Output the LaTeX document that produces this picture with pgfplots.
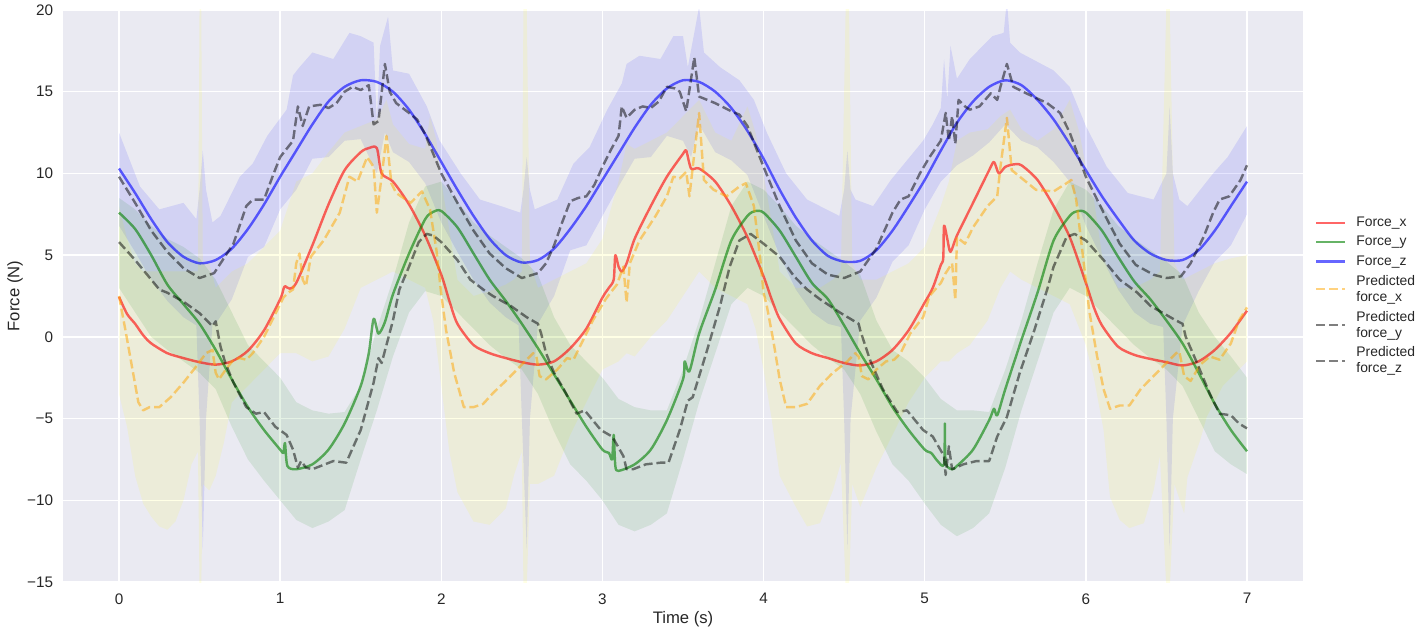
\documentclass[border=0pt]{standalone}
\usepackage{pgfplots}
\pgfplotsset{compat=1.18}
\usepgfplotslibrary{fillbetween}
\usepackage{fontspec}
\setmainfont{Liberation Sans}
\definecolor{bgc}{RGB}{234,234,242}
\definecolor{txt}{RGB}{38,38,38}
\definecolor{mplgreen}{RGB}{0,128,0}
\definecolor{mplorange}{RGB}{255,165,0}
\definecolor{mplyellow}{RGB}{255,255,0}
\begin{document}
\begin{tikzpicture}
\begin{axis}[
  at={(0,0)}, anchor=south west,
  scale only axis, width=892.8bp, height=411.84bp,
  xmin=-0.3476, xmax=7.3476, ymin=-15, ymax=20,
  axis background/.style={fill=bgc},
  axis line style={draw=none},
  major tick length=0pt,
  grid=major, major grid style={white, line width=1.1bp},
  xtick={0,1,2,3,4,5,6,7},
  xticklabels={0,1,2,3,4,5,6,7},
  ytick={-15,-10,-5,0,5,10,15,20},
  yticklabels={−15,−10,−5,0,5,10,15,20},
  tick label style={font=\fontsize{11bp}{13bp}\selectfont, text=txt, inner sep=0pt},
  xticklabel style={anchor=north, yshift=-8bp},
  yticklabel style={anchor=east, xshift=-7bp},
  xlabel={Time (s)}, ylabel={Force (N)},
  label style={font=\fontsize{12bp}{14bp}\selectfont, text=txt, inner sep=0pt},
  xlabel style={at={(axis description cs:0.5,-0.051)}, anchor=north},
  ylabel style={at={(axis description cs:-0.0387,0.5)}, anchor=center, rotate=0},
  legend cell align=left,
  legend image code/.code={\draw[#1] (0bp,0bp) -- (21bp,0bp); \path (26bp,0bp);},
  legend style={at={(axis description cs:1,0.5)}, anchor=west, xshift=7.5bp,
    draw=none, fill=none, font=\fontsize{10bp}{11.5bp}\selectfont, text=txt,
    row sep=1.6bp, cells={align=left}, inner sep=1bp},
  line join=round,
  solid line/.style={line width=1.75bp, smooth, tension=0.45},
  dash line/.style={line width=1.75bp, dash pattern=on 6.5bp off 2.8bp},
]
% ---------- bands ----------
\addplot[name path=zhi, draw=none, forget plot] coordinates {
(0,12.5) (0.13,9.2) (0.25,7.8) (0.4,8.2) (0.48,7.2) (0.5,9.0) (0.52,11.4) (0.54,9.0) (0.58,7.0) (0.63,7.4) (0.75,9.8) (0.83,10.6) (0.92,12.3) (1.04,13.9) (1.08,16.0) (1.12,16.5) (1.2,17.4) (1.33,17.0) (1.43,18.6) (1.5,18.4) (1.58,18.0) (1.6,13.1) (1.62,17.8) (1.67,19.6) (1.7,16.3) (1.8,16.1) (1.91,14.1) (1.99,12.0) (2.12,10.0) (2.24,8.4) (2.37,8.0) (2.49,7.6) (2.51,9.0) (2.53,11.0) (2.55,9.0) (2.58,7.8) (2.72,8.4) (2.82,10.6) (2.92,11.6) (3.03,13.9) (3.12,15.5) (3.15,16.7) (3.23,17.2) (3.36,17.0) (3.44,18.4) (3.5,18.4) (3.53,16.5) (3.57,18.6) (3.6,20.2) (3.63,17.4) (3.73,16.5) (3.85,15.7) (3.94,14.5) (4.02,12.5) (4.14,10.0) (4.27,8.4) (4.39,7.8) (4.47,7.4) (4.5,9.0) (4.52,11.4) (4.54,9.0) (4.57,8.4) (4.68,8.0) (4.79,9.6) (4.89,10.8) (4.99,12.0) (5.05,13.0) (5.1,14.0) (5.12,17.0) (5.14,14.5) (5.16,17.8) (5.2,15.8) (5.28,17.0) (5.42,18.4) (5.49,18.6) (5.51,20.6) (5.53,18.0) (5.59,17.4) (5.8,16.3) (5.9,15.3) (6.0,12.9) (6.13,10.4) (6.26,8.8) (6.42,8.4) (6.5,10.0) (6.52,14.1) (6.54,10.0) (6.58,8.4) (6.63,8.0) (6.79,10.0) (6.88,11.0) (7.0,12.9)
};
\addplot[name path=zlo, draw=none, forget plot] coordinates {
(0,6.8) (0.1,5.2) (0.2,3.5) (0.3,2.2) (0.4,1.2) (0.48,0.7) (0.5,-5) (0.52,-13) (0.54,-5) (0.58,0.8) (0.6,0.8) (0.7,2.3) (0.8,4.9) (0.9,5.5) (1.0,7.8) (1.1,9.0) (1.2,10.9) (1.3,11.0) (1.4,12.0) (1.5,12.1) (1.6,10.0) (1.65,12.5) (1.7,11.3) (1.8,10.7) (1.9,9.4) (2.0,7.0) (2.1,5.2) (2.2,3.5) (2.3,2.1) (2.4,1.2) (2.48,0.7) (2.5,-5) (2.53,-13) (2.55,-5) (2.6,0.8) (2.7,2.5) (2.8,5.3) (2.9,5.6) (3.0,7.4) (3.1,9.2) (3.2,10.9) (3.3,11.0) (3.4,12.3) (3.5,12.0) (3.55,11.0) (3.6,13.0) (3.7,11.3) (3.8,10.8) (3.9,9.9) (4.0,7.4) (4.1,5.0) (4.2,2.9) (4.3,1.5) (4.4,0.8) (4.48,0.6) (4.5,-5) (4.52,-13) (4.54,-5) (4.6,1.0) (4.7,2.4) (4.8,4.6) (4.9,5.6) (5.0,7.8) (5.1,9.5) (5.2,10.5) (5.3,11.1) (5.4,11.9) (5.5,13.0) (5.6,12.0) (5.7,11.6) (5.8,10.7) (5.9,9.5) (6.0,6.8) (6.1,4.8) (6.2,2.9) (6.3,1.5) (6.4,0.8) (6.48,0.6) (6.5,-5) (6.52,-13) (6.54,-5) (6.6,0.7) (6.7,2.8) (6.8,4.6) (6.9,5.6) (7.0,7.5)
};
\addplot[fill=blue, fill opacity=0.1, draw=none, forget plot] fill between[of=zhi and zlo];

\addplot[name path=xhi, draw=none, forget plot] coordinates {
(0,8.0) (0.05,6.0) (0.1,4.5) (0.15,4.0) (0.2,4.0) (0.3,4.0) (0.4,4.0) (0.49,4.0) (0.5,20.5) (0.51,20.5) (0.52,4.5) (0.56,4.5) (0.6,3.0) (0.65,3.5) (0.7,4.0) (0.8,4.5) (0.9,5.5) (1.0,6.5) (1.1,9.5) (1.2,10.0) (1.3,11.3) (1.4,12.5) (1.5,12.9) (1.6,13.3) (1.66,14.5) (1.7,13.0) (1.8,11.8) (1.9,11.5) (1.93,13.5) (1.97,12.0) (2.0,9.5) (2.05,6.5) (2.1,3.5) (2.2,2.5) (2.3,2.8) (2.4,3.2) (2.45,3.5) (2.5,4.0) (2.51,20.5) (2.53,20.5) (2.55,4.5) (2.6,3.0) (2.7,3.5) (2.8,4.0) (2.9,4.5) (3.0,6.0) (3.1,9.5) (3.15,11.8) (3.2,11.5) (3.3,12.0) (3.4,12.5) (3.5,13.5) (3.6,14.5) (3.7,12.5) (3.8,12.0) (3.9,14.1) (3.95,12.5) (4.0,10.0) (4.05,7.0) (4.1,4.0) (4.2,3.0) (4.27,3.0) (4.35,3.0) (4.43,3.5) (4.48,4.0) (4.51,20.5) (4.53,20.5) (4.55,4.5) (4.6,3.5) (4.7,3.5) (4.8,4.0) (4.9,4.5) (5.0,5.5) (5.1,8.0) (5.15,9.5) (5.2,12.0) (5.28,12.5) (5.39,12.7) (5.47,13.5) (5.53,13.9) (5.6,12.7) (5.7,12.0) (5.8,12.7) (5.9,14.5) (5.96,12.5) (6.0,10.4) (6.05,8.4) (6.1,5.0) (6.2,3.0) (6.3,3.0) (6.4,3.5) (6.46,4.0) (6.5,20.5) (6.52,20.5) (6.55,4.5) (6.6,3.5) (6.7,4.0) (6.8,4.5) (6.9,4.8) (7.0,5.0)
};
\addplot[name path=xlo, draw=none, forget plot] coordinates {
(0,-3.5) (0.05,-5.5) (0.1,-8.5) (0.15,-10.2) (0.2,-11.0) (0.25,-11.6) (0.3,-11.8) (0.35,-11.3) (0.4,-10.0) (0.45,-7.8) (0.49,-7.0) (0.5,-15.5) (0.51,-15.5) (0.52,-9.0) (0.56,-9.4) (0.6,-8.5) (0.65,-6.5) (0.7,-4.0) (0.8,-3.0) (0.9,-2.0) (1.0,-1.0) (1.1,-1.0) (1.2,-1.5) (1.3,-1.2) (1.4,0.5) (1.5,3.0) (1.6,3.5) (1.7,4.0) (1.8,3.5) (1.9,3.0) (1.95,1.0) (2.0,-3.0) (2.05,-7.0) (2.1,-9.5) (2.2,-11.3) (2.3,-11.5) (2.4,-10.5) (2.45,-8.5) (2.5,-7.0) (2.51,-15.5) (2.53,-15.5) (2.55,-9.0) (2.6,-9.0) (2.7,-8.5) (2.8,-6.0) (2.9,-4.0) (3.0,-2.0) (3.1,-1.5) (3.15,-1.0) (3.2,-1.2) (3.3,0.0) (3.4,1.0) (3.5,2.5) (3.6,4.0) (3.7,3.0) (3.8,2.5) (3.9,2.0) (3.95,0.5) (4.0,-2.0) (4.05,-5.0) (4.1,-8.5) (4.2,-10.4) (4.27,-11.6) (4.35,-11.4) (4.43,-9.4) (4.48,-7.7) (4.51,-15.5) (4.53,-15.5) (4.55,-9.0) (4.6,-10.4) (4.7,-8.0) (4.8,-6.0) (4.9,-4.0) (5.0,-2.5) (5.1,-1.5) (5.15,-1.5) (5.2,-1.0) (5.28,-0.5) (5.39,1.0) (5.47,3.0) (5.53,4.0) (5.6,3.5) (5.7,3.0) (5.8,2.5) (5.9,2.0) (5.96,0.5) (6.0,-0.5) (6.05,-2.5) (6.11,-5.7) (6.15,-9.8) (6.21,-11.2) (6.27,-11.7) (6.36,-11.4) (6.42,-9.4) (6.46,-7.3) (6.5,-15.5) (6.52,-15.5) (6.55,-9.0) (6.61,-10.8) (6.63,-8.6) (6.71,-6.3) (6.75,-4.9) (6.85,-3.0) (7.0,-1.5)
};
\addplot[fill=mplyellow, fill opacity=0.1, draw=none, forget plot] fill between[of=xhi and xlo];

\addplot[name path=yhi, draw=none, forget plot] coordinates {
(0.0,8.5) (0.1,7.8) (0.2,6.8) (0.3,6.0) (0.4,5.5) (0.5,4.8) (0.6,3.5) (0.7,1.5) (0.8,-0.5) (0.9,-1.5) (1.0,-2.5) (1.1,-4.0) (1.2,-4.5) (1.3,-4.7) (1.4,-4.6) (1.5,-3.0) (1.6,0.5) (1.7,3.5) (1.8,7.0) (1.9,9.2) (2.0,9.5) (2.1,8.3) (2.2,7.0) (2.3,6.2) (2.4,5.5) (2.5,4.8) (2.6,3.8) (2.7,1.2) (2.8,-0.5) (2.9,-1.5) (3.0,-2.5) (3.1,-3.8) (3.2,-4.3) (3.3,-4.5) (3.4,-4.5) (3.5,-2.0) (3.6,1.0) (3.7,4.5) (3.8,8.0) (3.9,9.5) (4.0,9.0) (4.1,8.0) (4.2,6.8) (4.3,6.0) (4.4,5.3) (4.5,4.6) (4.6,3.8) (4.7,1.0) (4.8,-0.8) (4.9,-1.5) (5.0,-2.5) (5.1,-3.8) (5.2,-4.5) (5.3,-4.5) (5.4,-4.6) (5.5,-2.0) (5.6,1.0) (5.7,4.5) (5.8,7.8) (5.9,9.5) (6.0,9.0) (6.1,8.0) (6.2,6.8) (6.3,6.0) (6.4,5.3) (6.5,4.6) (6.6,3.8) (6.7,1.5) (6.8,0.0) (6.9,-1.2) (7.0,-2.5)
};
\addplot[name path=ylo, draw=none, forget plot] coordinates {
(0.0,3.0) (0.1,1.5) (0.2,0.0) (0.3,-0.8) (0.4,-1.5) (0.5,-2.2) (0.6,-3.2) (0.7,-5.5) (0.8,-7.5) (0.9,-8.8) (1.0,-10.0) (1.1,-11.2) (1.2,-11.7) (1.3,-11.3) (1.4,-10.6) (1.5,-7.5) (1.6,-4.5) (1.7,-1.2) (1.8,1.5) (1.9,2.8) (2.0,2.5) (2.1,1.5) (2.2,0.5) (2.3,-0.5) (2.4,-1.3) (2.5,-2.0) (2.6,-3.5) (2.7,-5.8) (2.8,-7.8) (2.9,-8.8) (3.0,-10.0) (3.1,-11.5) (3.2,-11.9) (3.3,-11.5) (3.4,-10.8) (3.5,-7.5) (3.6,-4.0) (3.7,-1.0) (3.8,2.0) (3.9,3.0) (4.0,2.5) (4.1,1.5) (4.2,0.5) (4.3,-0.5) (4.4,-1.3) (4.5,-2.0) (4.6,-3.5) (4.7,-5.8) (4.8,-7.8) (4.9,-8.8) (5.0,-10.2) (5.1,-11.5) (5.2,-12.2) (5.3,-11.7) (5.4,-10.8) (5.5,-8.0) (5.6,-4.5) (5.7,-1.5) (5.8,1.5) (5.9,3.0) (6.0,2.5) (6.1,1.5) (6.2,0.5) (6.3,-0.5) (6.4,-1.3) (6.5,-2.0) (6.6,-3.0) (6.7,-5.0) (6.8,-7.0) (6.9,-7.8) (7.0,-8.4)
};
\addplot[fill=mplgreen, fill opacity=0.1, draw=none, forget plot] fill between[of=yhi and ylo];

% ---------- lines ----------
\addplot[red, draw opacity=0.6, solid line] coordinates {
(0,2.45) (0.05,1.4) (0.1,0.8) (0.15,0.1) (0.2,-0.4) (0.3,-1.0) (0.4,-1.3) (0.5,-1.55) (0.6,-1.7) (0.7,-1.5) (0.8,-0.85) (0.9,0.4) (1.0,2.3) (1.02,2.9) (1.03,3.1) (1.06,2.95) (1.1,3.3) (1.2,5.6) (1.3,8.1) (1.4,10.2) (1.5,11.3) (1.55,11.55) (1.6,11.55) (1.63,10.0) (1.7,9.5) (1.8,8.1) (1.9,6.2) (2.0,3.8) (2.05,2.2) (2.1,0.8) (2.2,-0.5) (2.3,-1.0) (2.4,-1.3) (2.5,-1.55) (2.6,-1.7) (2.7,-1.5) (2.8,-0.7) (2.9,0.5) (3.0,2.4) (3.04,3.0) (3.07,3.5) (3.08,5.0) (3.1,4.3) (3.12,4.0) (3.15,4.5) (3.2,6.0) (3.3,8.0) (3.4,9.8) (3.5,11.2) (3.52,11.4) (3.55,10.3) (3.6,10.3) (3.7,9.5) (3.8,8.0) (3.9,6.1) (4.0,3.7) (4.05,2.3) (4.1,1.1) (4.2,-0.4) (4.3,-1.0) (4.4,-1.3) (4.5,-1.6) (4.6,-1.75) (4.7,-1.5) (4.8,-0.8) (4.9,0.4) (5.0,2.1) (5.05,3.0) (5.1,4.4) (5.115,4.8) (5.12,6.8) (5.14,6.0) (5.16,5.2) (5.2,6.2) (5.3,8.2) (5.4,10.2) (5.43,10.7) (5.46,10.0) (5.5,10.4) (5.55,10.55) (5.6,10.5) (5.7,9.6) (5.8,8.0) (5.9,6.1) (6.0,3.3) (6.05,1.8) (6.1,0.7) (6.2,-0.6) (6.3,-1.1) (6.4,-1.35) (6.5,-1.55) (6.6,-1.75) (6.7,-1.5) (6.8,-0.8) (6.9,0.25) (7.0,1.6)
};
\addlegendentry{Force\_x}
\addplot[mplgreen, draw opacity=0.6, solid line] coordinates {
(0,7.6) (0.1,6.6) (0.2,5.0) (0.3,3.2) (0.4,2.0) (0.5,0.8) (0.6,-0.8) (0.7,-2.6) (0.8,-4.3) (0.9,-5.7) (1.0,-6.9) (1.02,-7.1) (1.03,-6.5) (1.045,-7.9) (1.1,-8.1) (1.2,-7.8) (1.3,-6.9) (1.4,-5.3) (1.5,-3.0) (1.55,-1.0) (1.58,1.1) (1.61,0.2) (1.65,0.9) (1.7,2.6) (1.8,5.1) (1.9,7.2) (1.95,7.65) (2.0,7.7) (2.1,6.7) (2.2,5.1) (2.3,3.5) (2.4,2.2) (2.5,0.8) (2.6,-0.7) (2.7,-2.3) (2.8,-3.9) (2.9,-5.5) (3.0,-6.9) (3.04,-7.1) (3.06,-7.5) (3.07,-6.0) (3.08,-7.9) (3.1,-8.2) (3.2,-7.8) (3.3,-6.9) (3.4,-5.1) (3.5,-2.6) (3.51,-1.5) (3.54,-2.1) (3.6,0.2) (3.7,2.9) (3.8,5.9) (3.9,7.4) (3.95,7.7) (4.0,7.6) (4.1,6.5) (4.2,4.9) (4.3,3.3) (4.4,2.3) (4.5,0.7) (4.6,-1.0) (4.7,-2.6) (4.8,-4.3) (4.9,-5.7) (5.0,-6.9) (5.04,-7.1) (5.08,-7.6) (5.12,-7.8) (5.125,-5.3) (5.13,-7.7) (5.17,-8.1) (5.2,-7.9) (5.3,-6.9) (5.4,-5.1) (5.43,-4.4) (5.45,-4.8) (5.5,-3.2) (5.6,-0.2) (5.7,2.7) (5.8,5.9) (5.9,7.4) (5.95,7.7) (6.0,7.6) (6.1,6.5) (6.2,4.9) (6.3,3.4) (6.4,2.3) (6.5,1.0) (6.6,-0.4) (6.7,-2.2) (6.8,-4.1) (6.9,-5.7) (7.0,-7.0)
};
\addlegendentry{Force\_y}
\addplot[blue, draw opacity=0.6, solid line] coordinates {
(0,10.3) (0.1,8.8) (0.2,7.2) (0.3,5.8) (0.4,4.9) (0.5,4.5) (0.6,4.7) (0.7,5.4) (0.8,6.6) (0.9,8.1) (1.0,9.8) (1.05,10.6) (1.1,11.4) (1.2,13.0) (1.3,14.4) (1.4,15.3) (1.5,15.7) (1.6,15.6) (1.7,15.0) (1.8,13.9) (1.9,12.4) (2.0,10.7) (2.1,9.0) (2.2,7.4) (2.3,6.0) (2.4,5.0) (2.5,4.55) (2.6,4.7) (2.7,5.4) (2.8,6.6) (2.9,8.0) (3.0,9.6) (3.1,11.2) (3.2,12.8) (3.3,14.2) (3.4,15.2) (3.5,15.7) (3.6,15.6) (3.7,15.0) (3.8,14.0) (3.9,12.6) (4.0,10.9) (4.1,9.0) (4.2,7.3) (4.3,5.9) (4.4,4.95) (4.5,4.6) (4.6,4.65) (4.7,5.3) (4.8,6.5) (4.9,8.0) (5.0,9.6) (5.1,11.4) (5.2,13.1) (5.3,14.4) (5.4,15.3) (5.5,15.7) (5.6,15.4) (5.7,14.5) (5.8,13.3) (5.9,11.8) (6.0,10.2) (6.1,8.6) (6.2,7.2) (6.3,5.9) (6.4,5.1) (6.5,4.7) (6.6,4.7) (6.7,5.3) (6.8,6.5) (6.9,8.0) (7.0,9.5)
};
\addlegendentry{Force\_z}
\addplot[mplorange, draw opacity=0.5, dash line] coordinates {
(0,2.5) (0.04,0.4) (0.08,-1.8) (0.12,-4.0) (0.15,-4.5) (0.19,-4.3) (0.25,-4.3) (0.32,-3.7) (0.4,-2.8) (0.48,-1.8) (0.54,-1.0) (0.58,-0.8) (0.6,-2.2) (0.62,-2.6) (0.67,-1.9) (0.71,-1.4) (0.75,-1.3) (0.79,-1.4) (0.83,-1.0) (0.9,0.0) (0.96,1.2) (1.02,2.4) (1.05,2.7) (1.08,2.9) (1.1,4.5) (1.12,5.1) (1.14,3.5) (1.16,3.1) (1.19,4.9) (1.27,5.9) (1.37,7.6) (1.43,9.8) (1.48,9.5) (1.54,11.0) (1.58,10.4) (1.6,7.6) (1.63,9.8) (1.66,12.3) (1.69,9.4) (1.72,8.8) (1.81,8.2) (1.88,8.9) (1.93,7.8) (1.97,5.3) (2.0,2.6) (2.03,0.4) (2.08,-2.2) (2.14,-4.3) (2.2,-4.3) (2.26,-4.1) (2.32,-3.45) (2.41,-2.6) (2.49,-1.8) (2.57,-1.0) (2.59,-1.2) (2.61,-2.4) (2.65,-2.6) (2.72,-2.0) (2.78,-1.3) (2.82,-1.4) (2.88,-0.2) (2.94,1.0) (3.02,2.3) (3.05,2.7) (3.09,3.2) (3.13,4.3) (3.15,2.1) (3.17,4.5) (3.23,5.9) (3.33,7.4) (3.4,8.6) (3.44,9.8) (3.48,9.7) (3.52,10.1) (3.54,8.6) (3.57,11.2) (3.6,13.7) (3.63,9.6) (3.69,9.0) (3.77,8.6) (3.85,9.2) (3.89,9.4) (3.94,8.0) (3.98,4.7) (4.0,2.7) (4.02,1.9) (4.06,-0.2) (4.1,-2.6) (4.14,-4.3) (4.2,-4.3) (4.27,-4.1) (4.35,-3.0) (4.43,-2.2) (4.52,-1.5) (4.57,-1.0) (4.59,-1.2) (4.61,-2.4) (4.65,-2.6) (4.7,-2.0) (4.76,-1.5) (4.81,-1.4) (4.85,-1.0) (4.91,0.2) (4.99,1.2) (5.03,2.5) (5.1,3.3) (5.13,3.9) (5.17,4.5) (5.19,2.25) (5.2,6.1) (5.25,5.7) (5.3,6.7) (5.39,8.0) (5.45,8.6) (5.47,10.4) (5.51,13.4) (5.54,10.2) (5.59,9.8) (5.69,9.0) (5.8,8.9) (5.88,9.4) (5.91,9.6) (5.94,8.4) (5.98,5.1) (6.01,2.6) (6.02,1.65) (6.07,-1.2) (6.11,-3.2) (6.15,-4.4) (6.21,-4.2) (6.27,-4.2) (6.34,-3.2) (6.42,-2.4) (6.5,-1.6) (6.56,-1.0) (6.58,-0.9) (6.61,-2.4) (6.65,-2.7) (6.71,-1.7) (6.77,-1.2) (6.83,-1.4) (6.9,-0.4) (6.95,1.0) (7.0,1.8)
};
\addlegendentry{Predicted\\force\_x}
\addplot[black, draw opacity=0.5, dash line] coordinates {
(0,5.8) (0.1,4.7) (0.2,3.5) (0.25,2.9) (0.3,2.7) (0.4,2.15) (0.5,1.45) (0.58,0.65) (0.6,0.95) (0.63,-0.6) (0.66,-1.6) (0.71,-2.8) (0.79,-4.3) (0.85,-4.7) (0.9,-4.6) (0.97,-5.5) (1.04,-6.0) (1.08,-6.9) (1.11,-8.0) (1.13,-7.6) (1.16,-8.0) (1.2,-8.1) (1.33,-7.6) (1.41,-7.7) (1.5,-5.7) (1.58,-2.8) (1.61,-1.3) (1.63,-1.6) (1.7,1.0) (1.74,2.9) (1.8,4.3) (1.86,5.8) (1.91,6.3) (1.95,6.2) (2.0,5.8) (2.1,4.7) (2.18,3.5) (2.26,2.9) (2.32,2.5) (2.43,1.9) (2.53,1.2) (2.6,0.8) (2.62,0.2) (2.65,-1.0) (2.7,-2.2) (2.76,-3.2) (2.84,-4.7) (2.89,-4.5) (2.99,-5.7) (3.06,-6.1) (3.09,-6.6) (3.13,-7.3) (3.15,-8.1) (3.19,-8.1) (3.27,-7.8) (3.36,-7.7) (3.41,-7.7) (3.48,-5.7) (3.53,-3.9) (3.56,-3.7) (3.65,-0.8) (3.73,1.9) (3.79,4.3) (3.85,5.9) (3.92,6.3) (4.0,5.7) (4.1,4.9) (4.19,3.7) (4.27,2.9) (4.35,2.3) (4.48,1.45) (4.59,0.8) (4.6,0.4) (4.66,-1.4) (4.74,-3.2) (4.83,-4.6) (4.89,-4.5) (4.99,-5.7) (5.05,-6.1) (5.12,-7.3) (5.13,-8.45) (5.15,-6.7) (5.17,-8.1) (5.24,-7.8) (5.32,-7.6) (5.4,-7.6) (5.45,-6.1) (5.51,-4.9) (5.59,-2.2) (5.68,0.4) (5.76,2.9) (5.8,4.3) (5.88,6.1) (5.93,6.3) (6.0,5.9) (6.11,4.7) (6.21,3.5) (6.32,2.7) (6.4,1.9) (6.56,1.0) (6.6,0.8) (6.62,0.0) (6.69,-1.6) (6.77,-3.5) (6.83,-4.7) (6.9,-4.8) (6.95,-5.3) (7.0,-5.6)
};
\addlegendentry{Predicted\\force\_y}
\addplot[black, draw opacity=0.5, dash line] coordinates {
(0,9.8) (0.1,8.2) (0.2,6.5) (0.3,5.2) (0.4,4.2) (0.5,3.6) (0.59,3.9) (0.63,4.5) (0.71,5.7) (0.79,8.0) (0.83,8.4) (0.9,8.4) (0.96,10.0) (1.0,11.0) (1.08,12.0) (1.11,14.1) (1.14,12.9) (1.18,14.1) (1.25,14.2) (1.3,14.0) (1.35,14.3) (1.4,15.0) (1.45,15.3) (1.5,15.1) (1.55,15.4) (1.58,13.0) (1.61,13.2) (1.65,16.7) (1.68,15.0) (1.72,14.3) (1.8,13.7) (1.85,13.3) (1.9,12.4) (2.0,10.0) (2.1,8.2) (2.2,6.5) (2.3,5.1) (2.4,4.2) (2.5,3.6) (2.6,3.9) (2.65,4.5) (2.7,5.6) (2.75,7.0) (2.8,8.3) (2.85,8.5) (2.9,8.6) (2.95,9.3) (3.0,10.4) (3.05,11.4) (3.1,12.3) (3.12,14.1) (3.15,13.4) (3.2,13.9) (3.25,14.1) (3.3,14.0) (3.35,14.4) (3.4,15.3) (3.45,15.2) (3.48,15.0) (3.52,13.8) (3.57,17.1) (3.6,14.7) (3.7,14.3) (3.8,13.8) (3.85,13.6) (3.9,12.9) (4.0,10.4) (4.1,8.0) (4.2,5.9) (4.3,4.5) (4.4,3.8) (4.5,3.6) (4.6,4.0) (4.7,5.4) (4.8,7.6) (4.85,8.4) (4.9,8.6) (4.97,10.0) (5.03,11.0) (5.1,12.0) (5.13,13.7) (5.15,12.0) (5.17,13.5) (5.19,11.8) (5.21,14.5) (5.25,14.1) (5.28,13.9) (5.34,14.1) (5.41,14.9) (5.45,14.5) (5.47,15.3) (5.51,16.7) (5.55,15.3) (5.63,14.9) (5.76,14.3) (5.84,13.7) (5.9,12.5) (6.0,9.8) (6.11,7.6) (6.21,5.7) (6.31,4.4) (6.42,3.8) (6.5,3.6) (6.59,3.7) (6.65,4.5) (6.73,6.1) (6.79,7.6) (6.83,8.4) (6.89,8.6) (6.96,9.6) (7.0,10.5)
};
\addlegendentry{Predicted\\force\_z}
\end{axis}
\path (-45.36bp,-38.16bp) rectangle (978.48bp,419.04bp);
\end{tikzpicture}
\end{document}
